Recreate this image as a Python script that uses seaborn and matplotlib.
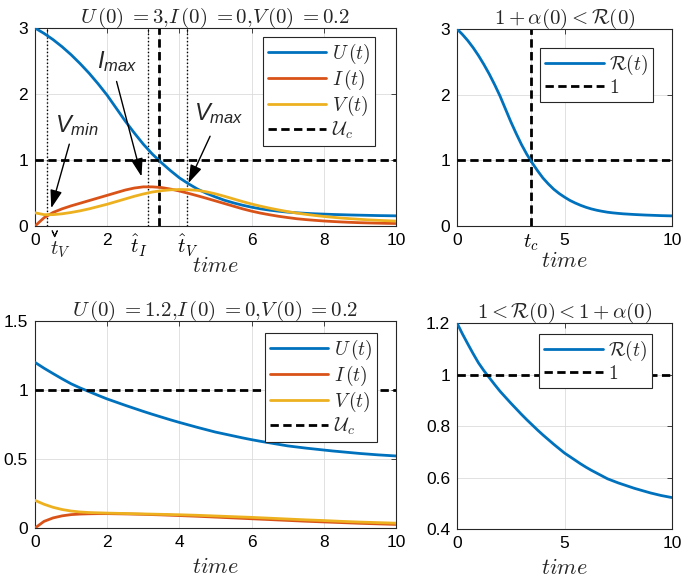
import numpy as np
import pandas as pd
import matplotlib
matplotlib.use("Agg")
import matplotlib.pyplot as plt
import matplotlib.patheffects as pe
import seaborn as sns

# ---------------- data ----------------
time = [0.0, 0.25, 0.5, 0.75, 1.0, 1.25, 1.5, 1.75, 2.0, 2.25, 2.5, 2.75,
        3.0, 3.25, 3.5, 3.75, 4.0, 4.25, 4.5, 4.75, 5.0, 5.25, 5.5, 5.75,
        6.0, 6.25, 6.5, 6.75, 7.0, 7.25, 7.5, 7.75, 8.0, 8.25, 8.5, 8.75,
        9.0, 9.25, 9.5, 9.75, 10.0]

# case U(0)=3
U_high = [3.00, 2.918, 2.824, 2.716, 2.595, 2.46, 2.314, 2.153, 1.98, 1.785, 1.59, 1.41,
          1.24, 1.09, 0.96, 0.84, 0.73, 0.64, 0.56, 0.495, 0.44, 0.39, 0.35, 0.315,
          0.285, 0.26, 0.24, 0.224, 0.21, 0.20, 0.192, 0.185, 0.18, 0.175, 0.171, 0.167,
          0.164, 0.161, 0.158, 0.156, 0.154]
I_high = [0.0, 0.125, 0.205, 0.26, 0.305, 0.345, 0.385, 0.425, 0.465, 0.505, 0.545, 0.575,
          0.593, 0.593, 0.583, 0.56, 0.53, 0.495, 0.458, 0.42, 0.38, 0.34, 0.30, 0.26,
          0.225, 0.195, 0.17, 0.147, 0.128, 0.11, 0.097, 0.086, 0.076, 0.068, 0.061, 0.055,
          0.05, 0.046, 0.043, 0.04, 0.038]
V_high = [0.20, 0.172, 0.172, 0.185, 0.205, 0.23, 0.26, 0.295, 0.33, 0.37, 0.41, 0.45,
          0.485, 0.515, 0.535, 0.548, 0.553, 0.55, 0.54, 0.518, 0.487, 0.45, 0.41, 0.37,
          0.333, 0.30, 0.27, 0.243, 0.218, 0.196, 0.177, 0.16, 0.145, 0.132, 0.12, 0.11,
          0.101, 0.093, 0.086, 0.08, 0.075]
R_high = [3.00, 2.918, 2.824, 2.716, 2.595, 2.46, 2.314, 2.153, 1.98, 1.785, 1.59, 1.41,
          1.24, 1.09, 0.96, 0.84, 0.73, 0.64, 0.56, 0.495, 0.44, 0.39, 0.35, 0.315,
          0.285, 0.26, 0.24, 0.224, 0.21, 0.20, 0.192, 0.185, 0.18, 0.175, 0.171, 0.167,
          0.164, 0.161, 0.158, 0.156, 0.154]

# case U(0)=1.2
U_low = [1.200, 1.158, 1.119, 1.081, 1.045, 1.015, 0.988, 0.961, 0.935, 0.912, 0.889, 0.867,
         0.845, 0.824, 0.804, 0.784, 0.765, 0.747, 0.729, 0.712, 0.695, 0.681, 0.667, 0.653,
         0.640, 0.628, 0.617, 0.606, 0.595, 0.587, 0.579, 0.572, 0.565, 0.558, 0.552, 0.546,
         0.540, 0.535, 0.530, 0.526, 0.522]
I_low = [0.0, 0.048, 0.073, 0.088, 0.097, 0.101, 0.103, 0.104, 0.104, 0.103, 0.102, 0.1005,
         0.099, 0.097, 0.095, 0.0925, 0.09, 0.0875, 0.085, 0.082, 0.079, 0.076, 0.073, 0.070,
         0.067, 0.064, 0.061, 0.058, 0.055, 0.052, 0.049, 0.0465, 0.044, 0.0415, 0.039, 0.0365,
         0.034, 0.032, 0.030, 0.028, 0.026]
V_low = [0.20, 0.172, 0.150, 0.134, 0.123, 0.116, 0.112, 0.110, 0.108, 0.1065, 0.105, 0.1035,
         0.102, 0.1005, 0.099, 0.0975, 0.096, 0.094, 0.092, 0.0895, 0.087, 0.0845, 0.082, 0.0795,
         0.077, 0.074, 0.071, 0.068, 0.065, 0.062, 0.059, 0.0565, 0.054, 0.051, 0.048, 0.0455,
         0.043, 0.041, 0.039, 0.037, 0.035]
R_low = [1.200, 1.158, 1.119, 1.081, 1.045, 1.015, 0.988, 0.961, 0.935, 0.912, 0.889, 0.867,
         0.845, 0.824, 0.804, 0.784, 0.765, 0.747, 0.729, 0.712, 0.695, 0.681, 0.667, 0.653,
         0.640, 0.628, 0.617, 0.606, 0.595, 0.587, 0.579, 0.572, 0.565, 0.558, 0.552, 0.546,
         0.540, 0.535, 0.530, 0.526, 0.522]

# special times
t_V_min = 0.32
t_I_max = 3.12
t_V_max = 4.22
t_c = 3.44
U_crit = 1.0

titles = [r'$U\,(0)\;{=}3{,}I\,(0)\;{=}0{,}V\,(0)\;{=}0.2$',
          r'$1+\alpha(0)<\mathcal{R}(0)$',
          r'$U\,(0)\;{=}1.2{,}I\,(0)\;{=}0{,}V\,(0)\;{=}0.2$',
          r'$1<\mathcal{R}(0)<1+\alpha(0)$']

# ---------------- style ----------------
sns.set_theme(style="white")
plt.rcParams['font.family'] = ['Liberation Sans', 'DejaVu Sans']
plt.rcParams['mathtext.fontset'] = 'cm'
plt.rcParams['mathtext.it'] = 'Liberation Sans:italic'

BLUE, ORANGE, YELLOW = '#0072BD', '#D95319', '#EDB120'
AXC = '#262626'
LW = 2.0
DASH = (0, (3, 1.6))
TICK_FS = 12.5
MATH_TICK_FS = 15
TITLE_FS = 15
LABEL_FS = 16

fig = plt.figure(figsize=(6.83, 5.83), dpi=100)
W, H = 683, 583


def add_ax(x0, y0, x1, y1):
    return fig.add_axes([x0 / W, 1 - y1 / H, (x1 - x0) / W, (y1 - y0) / H])


ax_tl = add_ax(35, 28, 396, 226)
ax_tr = add_ax(457, 29, 672, 226)
ax_bl = add_ax(35, 321, 396, 528)
ax_br = add_ax(457, 323, 672, 529)


def style(ax, labelpad):
    for s in ax.spines.values():
        s.set_color(AXC)
        s.set_linewidth(0.8)
    ax.tick_params(direction='in', top=True, right=True, length=3.5, width=0.6,
                   color=AXC, labelsize=TICK_FS, labelcolor='black', pad=5)
    ax.grid(True, color='#dcdcdc', lw=0.6)
    ax.set_axisbelow(True)
    ax.set_ylabel('')
    ax.set_xlabel(r'$time$', fontsize=LABEL_FS, labelpad=labelpad)
    for lab in ax.get_xticklabels():
        if lab.get_text().startswith('$'):
            lab.set_fontsize(MATH_TICK_FS)


def legend(ax, anchor):
    lg = ax.legend(loc='upper right', bbox_to_anchor=anchor, borderaxespad=0,
                   fontsize=14, handlelength=3.0, frameon=True, fancybox=False,
                   framealpha=1, edgecolor=AXC, handletextpad=0.3,
                   labelspacing=0.1, borderpad=0.25)
    lg.get_frame().set_linewidth(0.8)


df_high = pd.DataFrame({'time': time, 'U': U_high, 'I': I_high, 'V': V_high, 'R': R_high})
df_low = pd.DataFrame({'time': time, 'U': U_low, 'I': I_low, 'V': V_low, 'R': R_low})

# ---------- top left ----------
ax = ax_tl
for tt in (t_V_min, t_I_max, t_V_max):
    ax.axvline(tt, color='black', lw=1.0, ls=(0, (1, 1.6)), zorder=2)
ax.axvline(t_c, color='black', lw=LW, ls=DASH, zorder=2)
sns.lineplot(data=df_high, x='time', y='U', ax=ax, color=BLUE, lw=LW, label=r'$U\,(t)$', zorder=3)
sns.lineplot(data=df_high, x='time', y='I', ax=ax, color=ORANGE, lw=LW, label=r'$I\,(t)$', zorder=3)
sns.lineplot(data=df_high, x='time', y='V', ax=ax, color=YELLOW, lw=LW, label=r'$V\,(t)$', zorder=3)
ax.axhline(U_crit, color='black', lw=LW, ls=DASH, label=r'$\mathcal{U}_c$', zorder=4)
ax.set_xlim(0, 10)
ax.set_ylim(0, 3)
ax.set_yticks([0, 1, 2, 3])
ax.set_xticks([0, t_V_min, 2, t_I_max, t_c, 4, t_V_max, 6, 8, 10])
ax.set_xticklabels(['0', '', '2', r'$\hat{t}_I$', '', '', r'$\hat{t}_V$',
                    '6', '8', '10'])
style(ax, -2)
ax.get_xticklabels()[3].set_horizontalalignment('right')
# tick label for the V-minimum time: t_V with a small check accent above the t
ax.annotate(r'$t_V$', xy=(t_V_min, 0), xycoords=('data', 'axes fraction'),
            xytext=(2.5, -10), textcoords='offset points', ha='left', va='top',
            fontsize=MATH_TICK_FS, annotation_clip=False)
ax.annotate(r'$\vee$', xy=(t_V_min, 0), xycoords=('data', 'axes fraction'),
            xytext=(6.4, -9.0), textcoords='offset points', ha='center', va='bottom',
            fontsize=7, annotation_clip=False,
            path_effects=[pe.withStroke(linewidth=0.7, foreground='black')])
ax.set_title(titles[0], fontsize=TITLE_FS, pad=4)
legend(ax, (1 - 21 / 361, 1 - 9 / 198))

ann_kw = dict(fontsize=17, math_fontfamily='custom')
arrow = dict(arrowstyle='-|>,head_length=0.55,head_width=0.18', color='black', lw=1.0,
             shrinkA=0, shrinkB=0, mutation_scale=20)
ax.text(0.55, 1.42, r'$V_{min}$', ha='left', va='baseline', **ann_kw)
ax.annotate('', xy=(0.45, 0.27), xytext=(0.95, 1.24), arrowprops=arrow)
ax.text(1.72, 2.39, r'$I_{max}$', ha='left', va='baseline', **ann_kw)
ax.annotate('', xy=(2.95, 0.75), xytext=(2.26, 2.19), arrowprops=arrow)
ax.text(4.40, 1.61, r'$V_{max}$', ha='left', va='baseline', **ann_kw)
ax.annotate('', xy=(4.25, 0.65), xytext=(4.85, 1.36), arrowprops=arrow)

# ---------- top right ----------
ax = ax_tr
ax.axvline(t_c, color='black', lw=LW, ls=DASH, zorder=2)
sns.lineplot(data=df_high, x='time', y='R', ax=ax, color=BLUE, lw=LW, label=r'$\mathcal{R}(t)$', zorder=3)
ax.axhline(1, color='black', lw=LW, ls=DASH, label=r'$1$', zorder=4)
ax.set_xlim(0, 10)
ax.set_ylim(0, 3)
ax.set_yticks([0, 1, 2, 3])
ax.set_xticks([0, t_c, 5, 10])
ax.set_xticklabels(['0', r'$t_c$', '5', '10'])
style(ax, -2)
ax.set_title(titles[1], fontsize=TITLE_FS, pad=4)
legend(ax, (1 - 19 / 215, 1 - 19 / 197))

# ---------- bottom left ----------
ax = ax_bl
sns.lineplot(data=df_low, x='time', y='U', ax=ax, color=BLUE, lw=LW, label=r'$U\,(t)$', zorder=3)
sns.lineplot(data=df_low, x='time', y='I', ax=ax, color=ORANGE, lw=LW, label=r'$I\,(t)$', zorder=3)
sns.lineplot(data=df_low, x='time', y='V', ax=ax, color=YELLOW, lw=LW, label=r'$V\,(t)$', zorder=3)
ax.axhline(U_crit, color='black', lw=LW, ls=DASH, label=r'$\mathcal{U}_c$', zorder=4)
ax.set_xlim(0, 10)
ax.set_ylim(0, 1.5)
ax.set_yticks([0, 0.5, 1, 1.5])
ax.set_yticklabels(['0', '0.5', '1', '1.5'])
ax.set_xticks([0, 2, 4, 6, 8, 10])
style(ax, 5)
ax.set_title(titles[2], fontsize=TITLE_FS, pad=4)
legend(ax, (1 - 19 / 361, 1 - 12 / 207))

# ---------- bottom right ----------
ax = ax_br
sns.lineplot(data=df_low, x='time', y='R', ax=ax, color=BLUE, lw=LW, label=r'$\mathcal{R}(t)$', zorder=3)
ax.axhline(1, color='black', lw=LW, ls=DASH, label=r'$1$', zorder=4)
ax.set_xlim(0, 10)
ax.set_ylim(0.4, 1.2)
ax.set_yticks([0.4, 0.6, 0.8, 1.0, 1.2])
ax.set_yticklabels(['0.4', '0.6', '0.8', '1', '1.2'])
ax.set_xticks([0, 5, 10])
style(ax, 5)
ax.set_title(titles[3], fontsize=TITLE_FS, pad=4)
legend(ax, (1 - 20 / 215, 1 - 11 / 206))

fig.savefig('out.png', dpi=100)
